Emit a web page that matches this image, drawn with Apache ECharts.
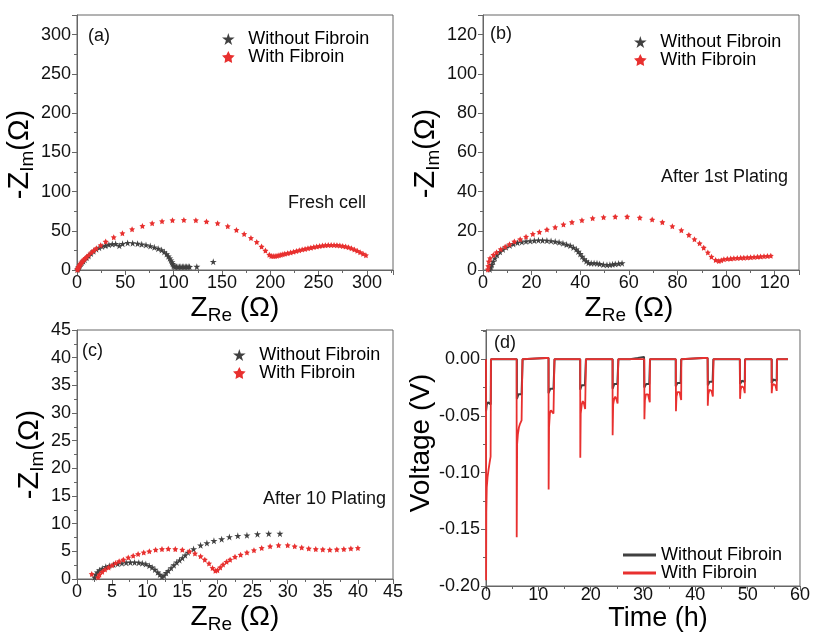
<!DOCTYPE html>
<html>
<head>
<meta charset="utf-8">
<script src="https://cdn.jsdelivr.net/npm/echarts/dist/echarts.min.js"></script>
<style>
  html, body { margin: 0; padding: 0; background: #fff; }
  #main { width: 813px; height: 635px; }
</style>
</head>
<body>
<div id="main"></div>
<script>
// EIS data: [Z_Re, -Z_Im] in ohm
var freshWithout = [[0.5,0.5],[1,1.5],[1.5,3],[2,4],[3,6],[4,8],[5,9.5],[6.5,11],[8,13],[10,15.5],[12,18],[14.5,21],[17,24],[20,26.5],[23,28.5],[26,30],[29.5,31],[33,32.3],[36.5,33],[40,33.3],[43.8,31],[47.2,33.4],[52.4,34.5],[57.6,34.2],[62.7,33.6],[67,32.8],[71.4,31.9],[75.8,30.6],[80,29],[84,27.2],[87.6,25.5],[90.3,23],[92.7,20.4],[94.5,17.5],[96,15],[97.2,12.5],[98.2,10],[99,8],[99.8,6],[100.3,4.5],[101.5,4.2],[103,4.2],[104.5,4.2],[106,4.2],[107.5,4.2],[109,4.2],[110.5,4.2],[112,4.2],[113.5,4.2],[115,4.3],[116.5,4],[124,4.3],[141,10.6]];
var freshWith = [[0.3,0.3],[0.8,1.5],[1.3,2.8],[1.8,4],[2.4,5.3],[3,6.6],[3.7,8],[4.5,9.4],[5.4,10.8],[6.4,12.3],[7.5,13.8],[8.8,15.4],[10.2,17],[12.4,19.5],[15,22.5],[17.5,25],[20,27.7],[24.5,31.5],[29.7,36.2],[38,41.7],[47,46.8],[57,51.9],[67.7,56.2],[77.8,59.6],[88,62.1],[98.8,63.4],[110.6,63.8],[123,63.4],[134,61.7],[145.5,59.6],[156,55.7],[165,51],[173,46],[180,40.8],[186,35.7],[191,29.8],[195,24.7],[199,19.5],[201,18],[203,17.7],[205,17.8],[207,18.2],[209,18.8],[211,19.4],[213,20],[215,20.6],[218,21.5],[221,22.4],[224,23.3],[227,24.2],[230,25.1],[233,26],[236,26.9],[239,27.7],[242,28.5],[245,29.3],[248,30],[251,30.6],[254,31.1],[257,31.5],[260,31.8],[263,31.9],[266,31.9],[269,31.7],[272,31.3],[275,30.7],[278,29.9],[281,28.9],[284,27.6],[287,26.1],[290,24.4],[293,22.6],[296,20.7],[299,18.8]];

var firstWithout = [[2.8,0.3],[3.2,1.5],[3.6,2.6],[4.2,4.3],[4.9,6],[5.8,7.7],[7,9.3],[8.2,10.5],[9.5,11.6],[11,12.5],[12.5,13.3],[14.2,13.9],[16,14.3],[17.7,14.6],[19.4,14.8],[21.1,15],[22.8,15.2],[24.5,15.1],[26.3,15],[28,14.8],[29.7,14.5],[31.3,14.1],[32.9,13.6],[34.4,13],[35.9,12.4],[37.2,11.5],[38.4,10.6],[39.2,9.4],[40,8.2],[40.8,6.9],[41.6,5.6],[42.5,4.5],[43.4,3.7],[44.5,3.5],[45.7,3.5],[46.9,3.4],[48,3.1],[49.5,2.8],[51,2.6],[52.2,2.7],[53.3,2.9],[54.4,3.1],[55.8,3.3],[57.2,3.5]];
var firstWith = [[2,0.3],[2.2,2],[2.4,4.3],[2.9,6],[4.3,7.7],[5.6,9],[7.3,10.6],[9.1,11.9],[10.9,13.1],[12.9,14.5],[15.3,15.7],[17.7,17],[20.5,18.4],[23.2,19.4],[26.3,20.6],[29.7,21.8],[33.1,23.2],[36.6,24.4],[40.7,25.4],[45.1,26.4],[49.6,26.9],[54.4,27.2],[59.3,27.2],[64.5,26.7],[69.6,25.7],[73.8,24.4],[77.9,22.3],[81.6,20.3],[84.7,17.9],[87,15.7],[89.1,13.6],[90.8,11.4],[92.5,8.9],[94,6.8],[95.7,5.1],[97,4.6],[98,5],[99.1,5.5],[100.5,5.7],[101.9,5.8],[103.2,6],[104.6,6.1],[106,6.2],[107.3,6.3],[108.7,6.4],[110.1,6.5],[111.5,6.6],[112.9,6.8],[114.2,6.9],[115.6,7],[117,7.1],[118.4,7.3]];

var tenthWithout = [[2.5,0.3],[2.7,0.8],[2.9,1.2],[3.2,1.6],[3.6,1.9],[4.1,2.2],[4.6,2.4],[5.2,2.6],[5.8,2.75],[6.4,2.85],[7,2.95],[7.6,3],[8.2,3],[8.8,2.95],[9.3,2.85],[9.8,2.7],[10.3,2.4],[10.7,2.1],[11.1,1.7],[11.5,1.2],[11.8,0.8],[12.1,0.4],[12.4,0.6],[12.7,1.1],[13,1.5],[13.4,2],[13.8,2.5],[14.2,3],[14.6,3.4],[15,3.8],[15.4,4.3],[15.8,4.8],[16.6,5.4],[17.6,6.1],[18.5,6.5],[19.5,6.9],[20.6,7.2],[21.7,7.6],[22.9,7.8],[24.2,7.9],[25.7,8.1],[27.3,8.2],[28.9,8.2]];
var tenthWith = [[2.1,0.9],[3,0.3],[3.2,0.8],[3.6,1.3],[4,1.7],[4.5,2.1],[5,2.5],[5.5,2.9],[6,3.2],[6.6,3.5],[7.3,3.9],[8,4.2],[8.7,4.5],[9.5,4.8],[10.3,5],[11.2,5.3],[12.1,5.4],[13,5.45],[14,5.4],[15,5.3],[16,5],[16.8,4.6],[17.6,4.1],[18.2,3.5],[18.8,2.8],[19.3,2],[19.7,1.5],[20,1.6],[20.4,2.1],[20.8,2.6],[21.3,3.1],[21.8,3.5],[22.5,4],[23.3,4.4],[24.2,4.8],[25.2,5.2],[26.3,5.6],[27.5,5.9],[28.7,6.1],[30,6.1],[31,5.9],[32,5.7],[33,5.5],[34,5.4],[35,5.35],[36,5.3],[37,5.35],[38,5.4],[39,5.5],[40,5.6]];

// plating/stripping voltage profile: [time h, voltage V]
var voltWithout = [[0,0],[0,-0.046],[0.15,-0.04],[0.4,-0.038],[0.7,-0.038],[0.9,-0.04],[0.95,0],
  [5.9,0],[5.9,-0.035],[6.2,-0.031],[6.5,-0.03],[6.8,-0.031],[6.95,-0.032],[7,0],
  [11.5,0.001],[11.95,0.001],[11.95,-0.03],[12.3,-0.026],[12.6,-0.025],[12.9,-0.026],[13.05,-0.027],[13.1,0],
  [18,0],[18,-0.027],[18.3,-0.023],[18.6,-0.022],[18.9,-0.023],[19.05,-0.024],[19.1,0],
  [24.2,0],[24.2,-0.026],[24.5,-0.022],[24.8,-0.021],[25.1,-0.022],[25.25,-0.023],[25.3,0],
  [27.5,0],[29,0.001],[30.2,0.002],[30.25,-0.025],[30.6,-0.022],[30.9,-0.021],[31.2,-0.022],[31.3,-0.022],[31.35,0],
  [36.25,0],[36.25,-0.024],[36.6,-0.021],[36.9,-0.02],[37.2,-0.021],[37.3,0],
  [41.5,0.001],[42.35,0.001],[42.4,-0.023],[42.7,-0.02],[43,-0.019],[43.3,-0.02],[43.45,0],
  [48.5,0],[48.55,-0.022],[48.9,-0.019],[49.2,-0.019],[49.45,-0.02],[49.5,0],
  [54.6,0],[54.6,-0.021],[54.9,-0.018],[55.2,-0.018],[55.55,-0.019],[55.6,0],[57.7,0]];
var voltWith = [[0,0],[0.02,-0.195],[0.06,-0.135],[0.15,-0.113],[0.3,-0.104],[0.5,-0.097],[0.7,-0.091],[0.88,-0.086],[0.92,-0.085],[0.95,0],
  [5.85,0],[5.87,-0.157],[5.95,-0.075],[6.1,-0.066],[6.3,-0.06],[6.5,-0.057],[6.8,-0.054],[6.95,-0.053],[6.97,0],
  [11.5,0.001],[11.95,0.001],[11.97,-0.115],[12.05,-0.06],[12.2,-0.048],[12.4,-0.045],[12.6,-0.046],[12.9,-0.048],[13.05,-0.048],[13.08,0],
  [18,0],[18.02,-0.087],[18.1,-0.048],[18.3,-0.04],[18.5,-0.037],[18.7,-0.039],[18.95,-0.044],[19.08,-0.045],[19.1,0],
  [24.18,0],[24.2,-0.067],[24.3,-0.04],[24.5,-0.035],[24.7,-0.033],[24.9,-0.035],[25.15,-0.039],[25.25,-0.04],[25.28,0],
  [30.25,0],[30.27,-0.053],[30.37,-0.036],[30.55,-0.031],[30.75,-0.0295],[30.95,-0.031],[31.2,-0.036],[31.3,-0.038],[31.33,0],
  [36.28,0],[36.3,-0.046],[36.4,-0.033],[36.6,-0.029],[36.8,-0.0275],[37,-0.029],[37.2,-0.034],[37.3,-0.036],[37.33,0],
  [41.5,0.001],[42.35,0.001],[42.38,-0.041],[42.48,-0.031],[42.7,-0.027],[42.9,-0.026],[43.1,-0.028],[43.35,-0.033],[43.45,-0.034],[43.48,0],
  [48.52,0],[48.55,-0.035],[48.65,-0.027],[48.85,-0.024],[49.05,-0.023],[49.25,-0.025],[49.45,-0.03],[49.5,-0.031],[49.53,0],
  [54.58,0],[54.6,-0.03],[54.7,-0.024],[54.9,-0.022],[55.1,-0.0215],[55.3,-0.023],[55.55,-0.028],[55.6,-0.029],[55.63,0],[57.7,0]];

var seriesNames = ['Without Fibroin', 'With Fibroin'];
var panelTags = ['(a)', '(b)', '(c)', '(d)'];
var panelNotes = ['Fresh cell', 'After 1st Plating', 'After 10 Plating'];

var FONT = 'Liberation Sans, Arial, sans-serif';
var GREY = '#404040';
var RED = '#e8302f';
var AXIS = '#666';
var STAR = 'path://M50,0 L61,35 L98,35 L68,57 L79,91 L50,70 L21,91 L32,57 L2,35 L39,35 Z';
var STAR2 = 'path://M50,0 L65,30 L98,35 L74,58 L79,91 L50,76 L21,91 L26,58 L2,35 L35,30 Z';

var myChart = echarts.init(document.getElementById('main'));

// hide labels that are not on the step (e.g. the axis max)
function stepLabel(step, digits) {
    return function (v) {
        var k = v / step;
        if (Math.abs(k - Math.round(k)) > 1e-6) return '';
        var s = (Math.round(k) * step).toFixed(digits);
        return s === '-0.00' ? '0.00' : s;
    };
}

var richX = {
    m: { fontSize: 28, fontFamily: FONT, color: '#000' },
    s: { fontSize: 19, fontFamily: FONT, color: '#000', padding: [15, 0, 0, 0] }
};
var richY = {
    m: { fontSize: 29, fontFamily: FONT, color: '#000' },
    s: { fontSize: 19, fontFamily: FONT, color: '#000', padding: [15, 0, 0, 0] }
};

function makeX(idx, max, step, name, gap, labelMargin, pad) {
    return {
        type: 'value', gridIndex: idx, min: 0, max: max, interval: step,
        name: name, nameLocation: 'middle', nameGap: gap,
        nameTextStyle: { fontSize: 27, fontFamily: FONT, color: '#000', rich: richX, padding: pad || 0 },
        axisLine: { onZero: false, lineStyle: { color: AXIS } },
        axisTick: { length: 5, lineStyle: { color: AXIS } },
        minorTick: { show: true, splitNumber: 2, length: 3, lineStyle: { color: AXIS } },
        splitLine: { show: false },
        axisLabel: { fontSize: 18, fontFamily: FONT, color: '#111', margin: labelMargin, formatter: stepLabel(step, 0) }
    };
}

function makeY(idx, min, max, step, digits, name, gap, pad) {
    return {
        type: 'value', gridIndex: idx, min: min, max: max, interval: step,
        name: name, nameLocation: 'middle', nameGap: gap, nameRotate: 90,
        nameTextStyle: { fontSize: 28, fontFamily: FONT, color: '#000', rich: richY, padding: pad || 0 },
        axisLine: { onZero: false, lineStyle: { color: AXIS } },
        axisTick: { length: 5, lineStyle: { color: AXIS } },
        minorTick: { show: true, splitNumber: 2, length: 3, lineStyle: { color: AXIS } },
        splitLine: { show: false },
        axisLabel: { fontSize: 18, fontFamily: FONT, color: '#111', margin: 6, formatter: stepLabel(step, digits) }
    };
}

function makeLegend(left, top, isLine) {
    return {
        orient: 'vertical', left: left, top: top, itemGap: 0,
        itemWidth: isLine ? 33 : 30, itemHeight: isLine ? 3 : 12,
        textStyle: { fontSize: 18, fontFamily: FONT, color: '#000', lineHeight: 16 },
        data: [
            { name: seriesNames[0], icon: isLine ? 'rect' : STAR, itemStyle: { color: GREY } },
            { name: seriesNames[1], icon: isLine ? 'rect' : STAR2, itemStyle: { color: RED } }
        ]
    };
}

function scatter(name, data, idx, color, symbol, size) {
    return {
        name: name, type: 'scatter', xAxisIndex: idx, yAxisIndex: idx,
        symbol: symbol, symbolSize: size, data: data,
        itemStyle: { color: color, opacity: 1 }
    };
}

function note(text, left, top, size) {
    return {
        type: 'text', left: left, top: top,
        style: { text: text, fontSize: size || 18, fontFamily: FONT, fill: '#111' }
    };
}

var zRe = '{m|Z}{s|Re}{m| (Ω)}';
var zIm = '{m|-Z}{s|Im}{m|(Ω)}';

var option = {
    backgroundColor: '#fff',
    animation: false,
    grid: [
        { left: 77, top: 15, width: 316, height: 255, show: true, borderColor: AXIS, borderWidth: 1 },
        { left: 483, top: 15, width: 316, height: 255, show: true, borderColor: AXIS, borderWidth: 1 },
        { left: 77, top: 330, width: 316, height: 255, show: true, borderColor: AXIS, borderWidth: 1 },
        { left: 486, top: 330, width: 316, height: 256, show: true, borderColor: AXIS, borderWidth: 1 }
    ],
    xAxis: [
        makeX(0, 327, 50, zRe, 21, 4),
        makeX(1, 130, 20, zRe, 21, 4, [0, 24, 0, 0]),
        makeX(2, 45, 5, zRe, 21, 4),
        makeX(3, 60, 10, 'Time (h)', 18, 0, [0, 0, 0, 30])
    ],
    yAxis: [
        makeY(0, 0, 325, 50, 0, zIm, 34, [0, 24, 0, 0]),
        makeY(1, 0, 130, 20, 0, zIm, 30, [0, 22, 0, 0]),
        makeY(2, 0, 45, 5, 0, zIm, 30),
        makeY(3, -0.2, 0.0257, 0.05, 2, 'Voltage (V)', 48, [0, 0, 0, 30])
    ],
    legend: [
        makeLegend(217, 25, false),
        makeLegend(629, 28, false),
        makeLegend(228, 341, false),
        makeLegend(618, 541, true)
    ],
    graphic: [
        note(panelTags[0], 88, 27),
        note(panelTags[1], 490, 25),
        note(panelTags[2], 82, 342),
        note(panelTags[3], 494, 334),
        note(panelNotes[0], 288, 194),
        note(panelNotes[1], 661, 168),
        note(panelNotes[2], 263, 490)
    ],
    series: [
        scatter(seriesNames[0], freshWithout, 0, GREY, STAR, 7),
        scatter(seriesNames[1], freshWith, 0, RED, STAR2, 6),
        scatter(seriesNames[0], firstWithout, 1, GREY, STAR, 7),
        scatter(seriesNames[1], firstWith, 1, RED, STAR2, 6),
        scatter(seriesNames[0], tenthWithout, 2, GREY, STAR, 7),
        scatter(seriesNames[1], tenthWith, 2, RED, STAR2, 6),
        {
            name: seriesNames[0], type: 'line', xAxisIndex: 3, yAxisIndex: 3,
            data: voltWithout, showSymbol: false, symbol: 'none',
            lineStyle: { color: GREY, width: 2 }, itemStyle: { color: GREY }
        },
        {
            name: seriesNames[1], type: 'line', xAxisIndex: 3, yAxisIndex: 3,
            data: voltWith, showSymbol: false, symbol: 'none',
            lineStyle: { color: RED, width: 1.8 }, itemStyle: { color: RED }
        }
    ]
};

myChart.setOption(option);
</script>
</body>
</html>
